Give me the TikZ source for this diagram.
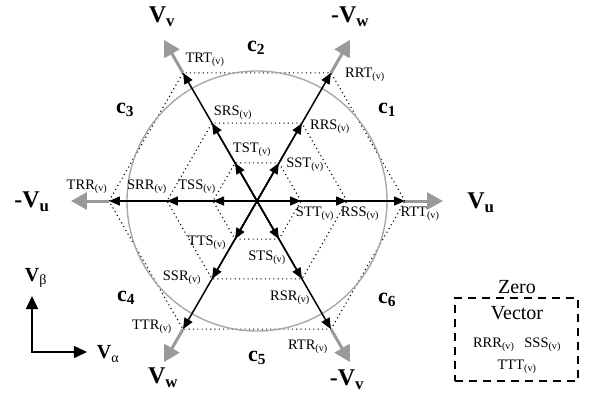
\documentclass[tikz,border=0pt]{standalone}
\usepackage{fontspec}
\setmainfont{Liberation Serif}
\usetikzlibrary{arrows.meta}
\definecolor{arrowGray}{HTML}{9A9A9A}
\definecolor{circleGray}{HTML}{A8A8A8}
\newcommand{\sv}[1]{#1\textsubscript{(v)}}
\tikzset{
    vec/.style={-{Triangle[length=11pt,width=9pt]},line width=1.5pt,draw=black},
    longvec/.style={-{Triangle[length=16pt,width=17pt]},line width=3pt,draw=arrowGray},
    axisvec/.style={{Triangle[length=13pt,width=12pt]}-{Triangle[length=13pt,width=12pt]},
        line width=1.5pt,draw=black},
    hexline/.style={line width=1.1pt,dash pattern=on 1.1pt off 3.2pt},
    statelabel/.style={font=\fontsize{14.5}{16}\selectfont,inner sep=1pt},
    axislabel/.style={font=\fontsize{24}{26}\selectfont\bfseries,inner sep=0pt},
    sectorlabel/.style={font=\fontsize{22}{24}\selectfont\bfseries,inner sep=0pt},
    framelabel/.style={font=\fontsize{20}{22}\selectfont\bfseries,inner sep=0pt},
    zerobox/.style={draw,line width=1.3pt,dash pattern=on 8pt off 6pt,
        minimum width=123pt,minimum height=83pt,inner sep=0pt},
    zerotext/.style={font=\fontsize{20}{22}\selectfont,inner sep=0pt}
}
\begin{document}
\begin{tikzpicture}[x=1pt,y=1pt]
    \useasboundingbox (-257,-191) rectangle (334,201);
    \coordinate (o) at (0,0);
    \foreach \a [count=\k] in {0,60,120,180,240,300}{
        \coordinate (in\k) at (\a:44);
        \coordinate (mid\k) at (\a:90);
        \coordinate (out\k) at (\a:148);
        \coordinate (tip\k) at (\a:186);
    }

    % hexagons and circle
    \draw[hexline] (in1) -- (in2) -- (in3) -- (in4) -- (in5) -- (in6) -- cycle;
    \draw[hexline] (mid1) -- (mid2) -- (mid3) -- (mid4) -- (mid5) -- (mid6) -- cycle;
    \draw[hexline] (out1) -- (out2) -- (out3) -- (out4) -- (out5) -- (out6) -- cycle;
    \draw[circleGray,line width=1.4pt] (o) circle (130);

    \foreach \k in {1,...,6}{
        \draw[longvec] (out\k) -- (tip\k);
        \draw[vec] (o) -- (out\k);
        \draw[vec] (o) -- (mid\k);
        \draw[vec] (o) -- (in\k);
    }

    \node[axislabel] (vu) at (224,-2) {V\textsubscript{u}};
    \node[axislabel] (mvw) at (93,184) {-V\textsubscript{w}};
    \node[axislabel] (vv) at (-95,184) {V\textsubscript{v}};
    \node[axislabel] (mvu) at (-225,-1) {-V\textsubscript{u}};
    \node[axislabel] (vw) at (-94,-177) {V\textsubscript{w}};
    \node[axislabel] (mvv) at (90,-179) {-V\textsubscript{v}};

    \node[sectorlabel] (c1) at (130,91) {c\textsubscript{1}};
    \node[sectorlabel] (c2) at (-1,153) {c\textsubscript{2}};
    \node[sectorlabel] (c3) at (-132,91) {c\textsubscript{3}};
    \node[sectorlabel] (c4) at (-131,-97) {c\textsubscript{4}};
    \node[sectorlabel] (c5) at (0,-157) {c\textsubscript{5}};
    \node[sectorlabel] (c6) at (130,-99) {c\textsubscript{6}};

    \node[statelabel] (lSTT) at (58,-13) {\sv{STT}};
    \node[statelabel] (lRSS) at (103,-13) {\sv{RSS}};
    \node[statelabel] (lRTT) at (163,-13) {\sv{RTT}};
    \node[statelabel] (lSST) at (48,36) {\sv{SST}};
    \node[statelabel] (lRRS) at (73,74) {\sv{RRS}};
    \node[statelabel] (lRRT) at (108,126) {\sv{RRT}};
    \node[statelabel] (lTST) at (-5,51) {\sv{TST}};
    \node[statelabel] (lSRS) at (-24,88) {\sv{SRS}};
    \node[statelabel] (lTRT) at (-52,141) {\sv{TRT}};
    \node[statelabel] (lTSS) at (-60,14) {\sv{TSS}};
    \node[statelabel] (lSRR) at (-110,14) {\sv{SRR}};
    \node[statelabel] (lTRR) at (-170,14) {\sv{TRR}};
    \node[statelabel] (lTTS) at (-50,-42) {\sv{TTS}};
    \node[statelabel] (lSSR) at (-75,-77) {\sv{SSR}};
    \node[statelabel] (lTTR) at (-105,-126) {\sv{TTR}};
    \node[statelabel] (lSTS) at (10,-57) {\sv{STS}};
    \node[statelabel] (lRSR) at (33,-97) {\sv{RSR}};
    \node[statelabel] (lRTR) at (51,-146) {\sv{RTR}};

    % alpha-beta frame
    \coordinate (ax0) at (-225,-151);
    \coordinate (axb) at (-225,-95);
    \coordinate (axa) at (-170,-151);
    \draw[axisvec] (axb) -- (ax0) -- (axa);
    \node[framelabel] (vb) at (-221,-77) {V\textsubscript{\mdseries β}};
    \node[framelabel] (va) at (-149,-153) {V\textsubscript{\mdseries α}};

    % zero vectors
    \node[zerobox] (zbox) at (259.5,-138.5) {};
    \node[zerotext] (zero) at (260,-86) {Zero};
    \node[zerotext] (vector) at (260,-112) {Vector};
    \node[statelabel] (zrs) at (260,-144) {\sv{RRR}\hspace{10pt}\sv{SSS}};
    \node[statelabel] (zt) at (260,-166) {\sv{TTT}};
\end{tikzpicture}
\end{document}
